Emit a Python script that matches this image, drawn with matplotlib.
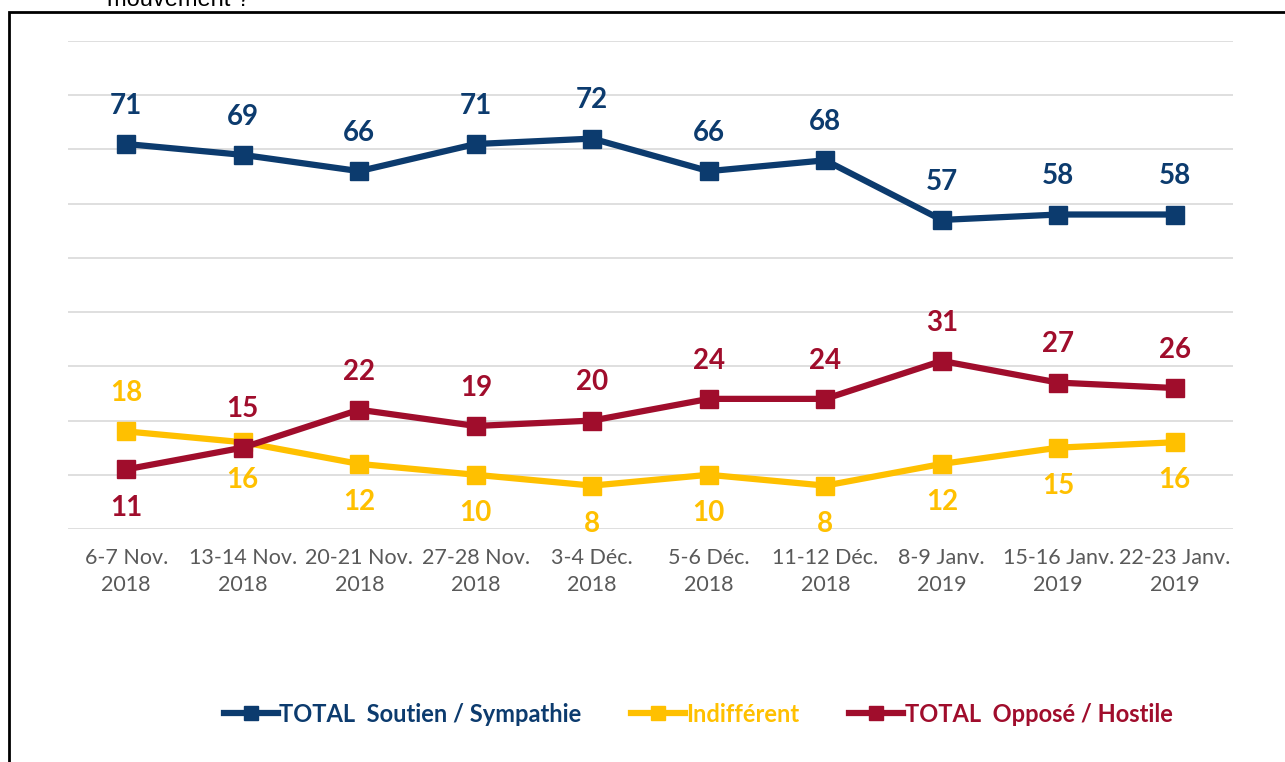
import matplotlib
matplotlib.use("Agg")
import matplotlib.pyplot as plt
from matplotlib.lines import Line2D
from matplotlib.patches import Rectangle

# ---- data ----
dates = ["6-7 Nov.\n2018", "13-14 Nov.\n2018", "20-21 Nov.\n2018", "27-28 Nov.\n2018",
         "3-4 Déc.\n2018", "5-6 Déc.\n2018", "11-12 Déc.\n2018", "8-9 Janv.\n2019",
         "15-16 Janv.\n2019", "22-23 Janv.\n2019"]
soutien = [71, 69, 66, 71, 72, 66, 68, 57, 58, 58]
indifferent = [18, 16, 12, 10, 8, 10, 8, 12, 15, 16]
oppose = [11, 15, 22, 19, 20, 24, 24, 31, 27, 26]

# label side: +1 above the marker, -1 below
side_soutien = [1] * 10
side_indiff = [1, -1, -1, -1, -1, -1, -1, -1, -1, -1]
side_oppose = [-1, 1, 1, 1, 1, 1, 1, 1, 1, 1]

navy = "#0c3b6e"
yellow = "#ffc000"
red = "#a00d2c"
grey_txt = "#595959"

plt.rcParams['font.family'] = ['Lato', 'DejaVu Sans']

fig = plt.figure(figsize=(12.85, 7.62), dpi=100)
ax = fig.add_axes([68 / 1285, 1 - 529 / 762, (1233 - 68) / 1285, (529 - 41) / 762])

x = list(range(len(dates)))
series = [(soutien, navy, side_soutien, "TOTAL  Soutien / Sympathie"),
          (indifferent, yellow, side_indiff, "Indifférent"),
          (oppose, red, side_oppose, "TOTAL  Opposé / Hostile")]

# draw yellow first so red sits on top, navy last
for vals, col, side, lab in [series[1], series[2], series[0]]:
    ax.plot(x, vals, color=col, lw=4.5, marker="s", ms=12.5, solid_joinstyle="miter", zorder=3)
    for xi, v, s in zip(x, vals, side):
        ax.annotate(str(v), (xi, v), xytext=(0, 27.5 * s), textcoords="offset points",
                    ha="center", va="center", fontsize=20, fontweight="bold", color=col)

ax.set_xlim(-0.5, len(dates) - 0.5)
ax.set_ylim(0, 90)
ax.set_yticks(range(0, 91, 10))
ax.set_yticklabels([])
ax.tick_params(axis="y", length=0)
ax.grid(axis="y", color="#d9d9d9", lw=1.2)
ax.set_axisbelow(True)
ax.set_xticks(x)
ax.set_xticklabels(dates, color=grey_txt, fontsize=15.5, linespacing=1.42)
ax.tick_params(axis="x", length=0, pad=14)
for sp in ax.spines.values():
    sp.set_visible(False)

# legend
handles = [Line2D([0], [0], color=c, lw=4.5, marker="s", ms=10) for _, c, _, _ in series]
leg = fig.legend(handles, [s[3] for s in series], loc="center", ncol=3,
                 bbox_to_anchor=(698 / 1285, 1 - 714 / 762), frameon=False,
                 fontsize=17, handlelength=2.3, handletextpad=0.05, columnspacing=2.1)
for t, (_, c, _, _) in zip(leg.get_texts(), series):
    t.set_color(c)
    t.set_fontweight("bold")

# frame around the chart and cut question text at the top
fig.patches.append(Rectangle((8.5 / 1285, -0.1), 1.2, 1.1 - 12 / 762, transform=fig.transFigure,
                             fill=False, edgecolor="black", lw=2, zorder=10))
fig.text(107 / 1285, 1 - 6 / 762, "mouvement ?", family="Liberation Sans", fontsize=17,
         ha="left", va="baseline", color="black")

fig.savefig("out.png", dpi=100)
